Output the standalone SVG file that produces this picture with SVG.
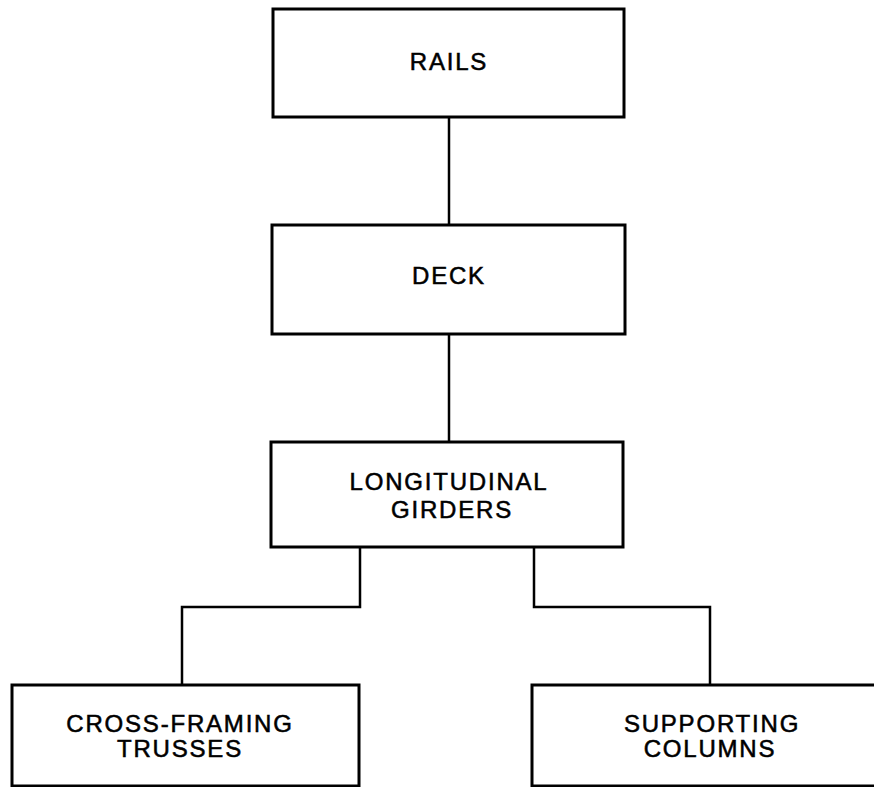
<svg xmlns="http://www.w3.org/2000/svg" width="874" height="787" viewBox="0 0 874 787">
<style>
.box{fill:#fff;stroke:#000;stroke-width:3}
.lbl{font-family:"Liberation Sans",Arial,sans-serif;font-size:24px;letter-spacing:1.8px;text-anchor:middle;fill:#000;stroke:#000;stroke-width:0.55}
.con{fill:none;stroke:#000;stroke-width:2.5}
</style>
<rect width="874" height="787" fill="#fff"/>
<g id="connectors">
<line class="con" x1="449" y1="117" x2="449" y2="225"/>
<line class="con" x1="449" y1="334" x2="449" y2="442"/>
<polyline class="con" points="360,547 360,607 182,607 182,685"/>
<polyline class="con" points="534,547 534,607 710,607 710,685"/>
</g>
<g id="rails">
<rect class="box" x="273" y="9" width="351" height="108"/>
<text class="lbl" x="449" y="70">RAILS</text>
</g>
<g id="deck">
<rect class="box" x="272" y="225" width="353" height="109"/>
<text class="lbl" x="449" y="284">DECK</text>
</g>
<g id="girders">
<rect class="box" x="271" y="442" width="352" height="105"/>
<text class="lbl" x="449" y="490">LONGITUDINAL</text>
<text class="lbl" x="452" y="518">GIRDERS</text>
</g>
<g id="cross-framing">
<rect class="box" x="12" y="685" width="347" height="101"/>
<text class="lbl" x="180" y="732">CROSS-FRAMING</text>
<text class="lbl" x="180" y="757">TRUSSES</text>
</g>
<g id="columns">
<rect class="box" x="532" y="685" width="345" height="101"/>
<text class="lbl" x="712" y="732">SUPPORTING</text>
<text class="lbl" x="710" y="757">COLUMNS</text>
</g>
</svg>
